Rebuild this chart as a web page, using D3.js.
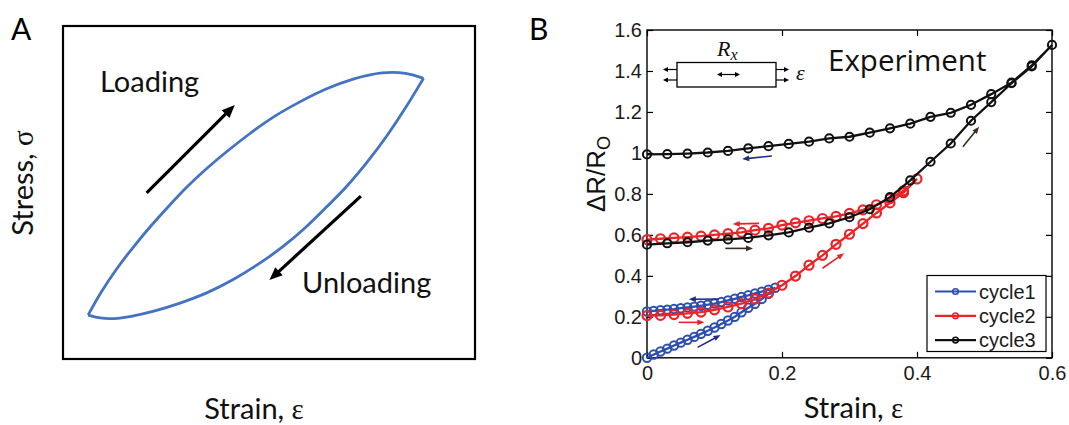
<!DOCTYPE html>
<html>
<head>
<meta charset="utf-8">
<script src="https://cdn.jsdelivr.net/npm/d3@7"></script>
<style>
  body { margin: 0; background: #fff; }
  svg { display: block; }
</style>
</head>
<body>
<svg id="fig" width="1069" height="425"></svg>
<script>
// ---------- Panel A: schematic stress–strain hysteresis loop (normalised units) ----------
const loopLoadStrain   = [0.061, 0.090, 0.130, 0.171, 0.211, 0.252, 0.300, 0.349, 0.397, 0.454, 0.510, 0.575, 0.640, 0.705, 0.777, 0.834, 0.875];
const loopLoadStress   = [0.132, 0.197, 0.272, 0.337, 0.397, 0.453, 0.517, 0.573, 0.623, 0.678, 0.728, 0.773, 0.813, 0.843, 0.863, 0.860, 0.843];
const loopUnloadStrain = [0.875, 0.834, 0.786, 0.737, 0.689, 0.640, 0.592, 0.535, 0.478, 0.413, 0.349, 0.284, 0.219, 0.163, 0.122, 0.090, 0.061];
const loopUnloadStress = [0.843, 0.758, 0.668, 0.588, 0.517, 0.457, 0.397, 0.337, 0.287, 0.237, 0.197, 0.167, 0.142, 0.127, 0.120, 0.122, 0.132];
// direction arrows: [strainStart, stressStart, strainEnd, stressEnd]
const loadingArrow   = [0.203, 0.499, 0.417, 0.763];
const unloadingArrow = [0.723, 0.489, 0.501, 0.237];

// ---------- Panel B: relative resistance change over three strain cycles ----------
const c1LoadStrain   = [0, 0.01, 0.02, 0.03, 0.04, 0.05, 0.06, 0.07, 0.08, 0.09, 0.10, 0.11, 0.12, 0.13, 0.14, 0.15, 0.16, 0.17, 0.18, 0.19];
const c1LoadValue    = [0.000, 0.016, 0.031, 0.045, 0.060, 0.074, 0.088, 0.102, 0.117, 0.132, 0.148, 0.165, 0.182, 0.200, 0.222, 0.244, 0.264, 0.287, 0.312, 0.342];
const c1UnloadStrain = [0.18, 0.17, 0.16, 0.15, 0.14, 0.13, 0.12, 0.11, 0.10, 0.09, 0.08, 0.07, 0.06, 0.05, 0.04, 0.03, 0.02, 0.01, 0];
const c1UnloadValue  = [0.332, 0.323, 0.314, 0.305, 0.297, 0.288, 0.280, 0.272, 0.265, 0.259, 0.254, 0.250, 0.246, 0.242, 0.238, 0.235, 0.232, 0.229, 0.226];

const c2LoadStrain   = [0, 0.02, 0.04, 0.06, 0.08, 0.10, 0.12, 0.14, 0.16, 0.18, 0.20, 0.22, 0.24, 0.26, 0.28, 0.30, 0.32, 0.34, 0.36, 0.38, 0.40];
const c2LoadValue    = [0.206, 0.207, 0.211, 0.217, 0.223, 0.234, 0.248, 0.264, 0.287, 0.316, 0.354, 0.399, 0.452, 0.500, 0.554, 0.603, 0.655, 0.707, 0.756, 0.806, 0.873];
const c2UnloadStrain = [0.38, 0.36, 0.34, 0.32, 0.30, 0.28, 0.26, 0.24, 0.22, 0.20, 0.18, 0.16, 0.14, 0.12, 0.10, 0.08, 0.06, 0.04, 0.02, 0];
const c2UnloadValue  = [0.815, 0.777, 0.747, 0.722, 0.705, 0.690, 0.680, 0.669, 0.659, 0.648, 0.632, 0.623, 0.612, 0.606, 0.600, 0.594, 0.589, 0.585, 0.581, 0.577];

const c3LoadStrain   = [0, 0.03, 0.06, 0.09, 0.12, 0.15, 0.18, 0.21, 0.24, 0.27, 0.30, 0.33, 0.36, 0.39, 0.42, 0.45, 0.48, 0.51, 0.54, 0.57, 0.60];
const c3LoadValue    = [0.552, 0.559, 0.564, 0.572, 0.578, 0.585, 0.598, 0.612, 0.635, 0.656, 0.686, 0.725, 0.784, 0.866, 0.957, 1.046, 1.157, 1.248, 1.340, 1.422, 1.527];
const c3UnloadStrain = [0.57, 0.54, 0.51, 0.48, 0.45, 0.42, 0.39, 0.36, 0.33, 0.30, 0.27, 0.24, 0.21, 0.18, 0.15, 0.12, 0.09, 0.06, 0.03, 0];
const c3UnloadValue  = [1.427, 1.343, 1.287, 1.235, 1.196, 1.176, 1.143, 1.120, 1.099, 1.079, 1.071, 1.055, 1.044, 1.033, 1.022, 1.010, 1.002, 0.997, 0.994, 0.993];

const seriesNames  = ["cycle1", "cycle2", "cycle3"];
const seriesColors = ["#2d4fb0", "#ec2327", "#111111"];

const xTickValues = [0, 0.2, 0.4, 0.6];
const xTickLabels = ["0", "0.2", "0.4", "0.6"];
const yTickValues = [0, 0.2, 0.4, 0.6, 0.8, 1.0, 1.2, 1.4, 1.6];
const yTickLabels = ["0", "0.2", "0.4", "0.6", "0.8", "1", "1.2", "1.4", "1.6"];

// loading-direction arrows: [strain0, value0, strain1, value1] and their colours
const dirArrows = [
  [0.185, 0.985, 0.141, 0.970],
  [0.166, 0.656, 0.127, 0.653],
  [0.116, 0.534, 0.157, 0.534],
  [0.106, 0.287, 0.062, 0.286],
  [0.047, 0.173, 0.085, 0.173],
  [0.075, 0.051, 0.109, 0.111],
  [0.260, 0.437, 0.292, 0.510],
  [0.468, 1.030, 0.492, 1.128]
];
const dirArrowColors = ["#1f2a85", "#e8222a", "#3b2c22", "#1f2a85", "#e8222a", "#1f2a85", "#e8222a", "#3b2c22"];

// ---------------------------------------------------------------------------
const svg = d3.select("#fig");
const SANS = "Lato, 'Open Sans', sans-serif";
const ARIAL = "'Liberation Sans', Arial, sans-serif";
const SERIF = "'Liberation Serif', 'DejaVu Serif', serif";

function arrow(g, x0, y0, x1, y1, color, width, headLen, headHalf) {
  const dx = x1 - x0, dy = y1 - y0, L = Math.hypot(dx, dy);
  const ux = dx / L, uy = dy / L;
  const bx = x1 - ux * headLen, by = y1 - uy * headLen;
  g.append("line")
    .attr("x1", x0).attr("y1", y0)
    .attr("x2", x1 - ux * headLen * 0.6).attr("y2", y1 - uy * headLen * 0.6)
    .attr("stroke", color).attr("stroke-width", width);
  g.append("path")
    .attr("d", `M${x1},${y1}L${bx - uy * headHalf},${by + ux * headHalf}L${bx + uy * headHalf},${by - ux * headHalf}Z`)
    .attr("fill", color);
}

// ========================= Panel A =========================
const gA = svg.append("g");
const ax = d3.scaleLinear().domain([0, 1]).range([63, 475]);
const ay = d3.scaleLinear().domain([0, 1]).range([359, 26]);

gA.append("rect")
  .attr("x", ax(0)).attr("y", ay(1))
  .attr("width", ax(1) - ax(0)).attr("height", ay(0) - ay(1))
  .attr("fill", "none").attr("stroke", "#000").attr("stroke-width", 2.2);

const loopLine = d3.line().x(d => ax(d[0])).y(d => ay(d[1])).curve(d3.curveBasis);
gA.append("path")
  .attr("d", loopLine(loopLoadStrain.map((s, i) => [s, loopLoadStress[i]])))
  .attr("fill", "none").attr("stroke", "#4472c4").attr("stroke-width", 2.8);
gA.append("path")
  .attr("d", loopLine(loopUnloadStrain.map((s, i) => [s, loopUnloadStress[i]])))
  .attr("fill", "none").attr("stroke", "#4472c4").attr("stroke-width", 2.8);

[loadingArrow, unloadingArrow].forEach(a =>
  arrow(gA, ax(a[0]), ay(a[1]), ax(a[2]), ay(a[3]), "#000", 3.2, 13, 5.5));

gA.append("text").attr("x", 100).attr("y", 92).text("Loading")
  .attr("font-family", SANS).attr("font-size", 29).attr("fill", "#111");
gA.append("text").attr("x", 302).attr("y", 293).text("Unloading")
  .attr("font-family", SANS).attr("font-size", 29).attr("fill", "#111");

const aX = gA.append("text").attr("x", 254).attr("y", 419).attr("text-anchor", "middle")
  .attr("font-family", SANS).attr("font-size", 29).attr("fill", "#111");
aX.append("tspan").text("Strain, ");
aX.append("tspan").attr("font-family", SERIF).text("ε");

const aY = gA.append("text").attr("transform", "translate(33,183) rotate(-90)").attr("text-anchor", "middle")
  .attr("font-family", SANS).attr("font-size", 29).attr("fill", "#111");
aY.append("tspan").text("Stress, ");
aY.append("tspan").attr("font-family", SERIF).text("σ");

svg.append("text").attr("x", 11).attr("y", 40).text("A")
  .attr("font-family", SANS).attr("font-size", 30).attr("fill", "#000");
svg.append("text").attr("x", 529).attr("y", 40).text("B")
  .attr("font-family", SANS).attr("font-size", 30).attr("fill", "#000");

// ========================= Panel B =========================
const gB = svg.append("g");
const bx = d3.scaleLinear().domain([0, 0.6]).range([647, 1052]);
const by = d3.scaleLinear().domain([0, 1.6]).range([357.8, 30]);

// axes with inward ticks on all four sides
const axisStyle = g => {
  g.selectAll(".domain").remove();
  g.selectAll(".tick line").attr("stroke", "#000").attr("stroke-width", 1.2);
  g.selectAll(".tick text").attr("font-family", ARIAL).attr("font-size", 20).attr("fill", "#1a1a1a");
};
gB.append("g").attr("transform", `translate(0,${by(0)})`)
  .call(d3.axisBottom(bx).tickValues(xTickValues).tickFormat((d, i) => xTickLabels[i]).tickSize(-6).tickPadding(8))
  .call(axisStyle);
gB.append("g").attr("transform", `translate(${bx(0)},0)`)
  .call(d3.axisLeft(by).tickValues(yTickValues).tickFormat((d, i) => yTickLabels[i]).tickSize(-6).tickPadding(5))
  .call(axisStyle);
gB.append("g").attr("transform", `translate(0,${by(1.6)})`)
  .call(d3.axisTop(bx).tickValues(xTickValues).tickFormat("").tickSize(-6))
  .call(axisStyle);
gB.append("g").attr("transform", `translate(${bx(0.6)},0)`)
  .call(d3.axisRight(by).tickValues(yTickValues).tickFormat("").tickSize(-6))
  .call(axisStyle);

gB.append("rect")
  .attr("x", bx(0)).attr("y", by(1.6))
  .attr("width", bx(0.6) - bx(0)).attr("height", by(0) - by(1.6))
  .attr("fill", "none").attr("stroke", "#000").attr("stroke-width", 1.4);

// inset: stretched resistor sketch
const inset = gB.append("g");
inset.append("rect").attr("x", 677).attr("y", 62.5).attr("width", 99).attr("height", 24.5)
  .attr("fill", "#fff").attr("stroke", "#000").attr("stroke-width", 1.3);
[69.5, 80].forEach(yy => {
  arrow(inset, 677, yy, 663, yy, "#000", 1.2, 5, 2.6);
  arrow(inset, 776, yy, 789, yy, "#000", 1.2, 5, 2.6);
});
arrow(inset, 728, 74.5, 717, 74.5, "#000", 1.2, 5, 2.6);
arrow(inset, 728, 74.5, 740, 74.5, "#000", 1.2, 5, 2.6);
const rx = inset.append("text").attr("x", 717).attr("y", 56)
  .attr("font-family", SERIF).attr("font-style", "italic").attr("font-size", 22).attr("fill", "#111");
rx.append("tspan").text("R");
rx.append("tspan").attr("font-size", 16).attr("dy", 4).text("x");
inset.append("text").attr("x", 796).attr("y", 80).text("ε")
  .attr("font-family", SERIF).attr("font-style", "italic").attr("font-size", 22).attr("fill", "#111");

gB.append("text").attr("x", 828).attr("y", 71).text("Experiment")
  .attr("font-family", "'Open Sans', sans-serif").attr("font-size", 29.5).attr("fill", "#111");

// series: loading branch followed by unloading branch
const series = [
  { strain: c1LoadStrain.concat(c1UnloadStrain), value: c1LoadValue.concat(c1UnloadValue), r: 4.2, w: 2.0 },
  { strain: c2LoadStrain.concat(c2UnloadStrain), value: c2LoadValue.concat(c2UnloadValue), r: 4.5, w: 2.2 },
  { strain: c3LoadStrain.concat(c3UnloadStrain), value: c3LoadValue.concat(c3UnloadValue), r: 4.1, w: 2.0 }
];
const seriesLine = d3.line().x(d => bx(d[0])).y(d => by(d[1]));
series.forEach((s, k) => {
  const pts = s.strain.map((e, i) => [e, s.value[i]]);
  const g = gB.append("g");
  g.append("path").attr("d", seriesLine(pts))
    .attr("fill", "none").attr("stroke", seriesColors[k]).attr("stroke-width", 2.3);
  g.selectAll("circle").data(pts).join("circle")
    .attr("cx", d => bx(d[0])).attr("cy", d => by(d[1])).attr("r", s.r)
    .attr("fill", "none").attr("stroke", seriesColors[k]).attr("stroke-width", s.w);
});

dirArrows.forEach((a, i) =>
  arrow(gB, bx(a[0]), by(a[1]), bx(a[2]), by(a[3]), dirArrowColors[i], 1.6, 7, 2.8));

gB.append("text").attr("x", 853.5).attr("y", 418).attr("text-anchor", "middle")
  .attr("font-family", SANS).attr("font-size", 29).attr("fill", "#111")
  .call(t => { t.append("tspan").text("Strain, "); t.append("tspan").attr("font-family", SERIF).text("ε"); });

const yl = gB.append("text").attr("transform", "translate(605,174) rotate(-90)").attr("text-anchor", "middle")
  .attr("font-family", ARIAL).attr("font-size", 26).attr("fill", "#111");
yl.append("tspan").text("ΔR/R");
yl.append("tspan").attr("font-size", 18).attr("dy", 5).text("O");

// legend
const leg = gB.append("g");
leg.append("rect").attr("x", 927).attr("y", 275.5).attr("width", 119).attr("height", 76)
  .attr("fill", "#fff").attr("stroke", "#000").attr("stroke-width", 1.2);
seriesNames.forEach((name, i) => {
  const yy = 291.5 + i * 24.3;
  leg.append("line").attr("x1", 935).attr("x2", 976).attr("y1", yy).attr("y2", yy)
    .attr("stroke", seriesColors[i]).attr("stroke-width", 2.2);
  leg.append("circle").attr("cx", 955.5).attr("cy", yy).attr("r", 2.8)
    .attr("fill", "none").attr("stroke", seriesColors[i]).attr("stroke-width", 1.6);
  leg.append("text").attr("x", 979).attr("y", yy).attr("dy", "0.35em").text(name)
    .attr("font-family", ARIAL).attr("font-size", 20).attr("fill", "#1a1a1a");
});
</script>
</body>
</html>
